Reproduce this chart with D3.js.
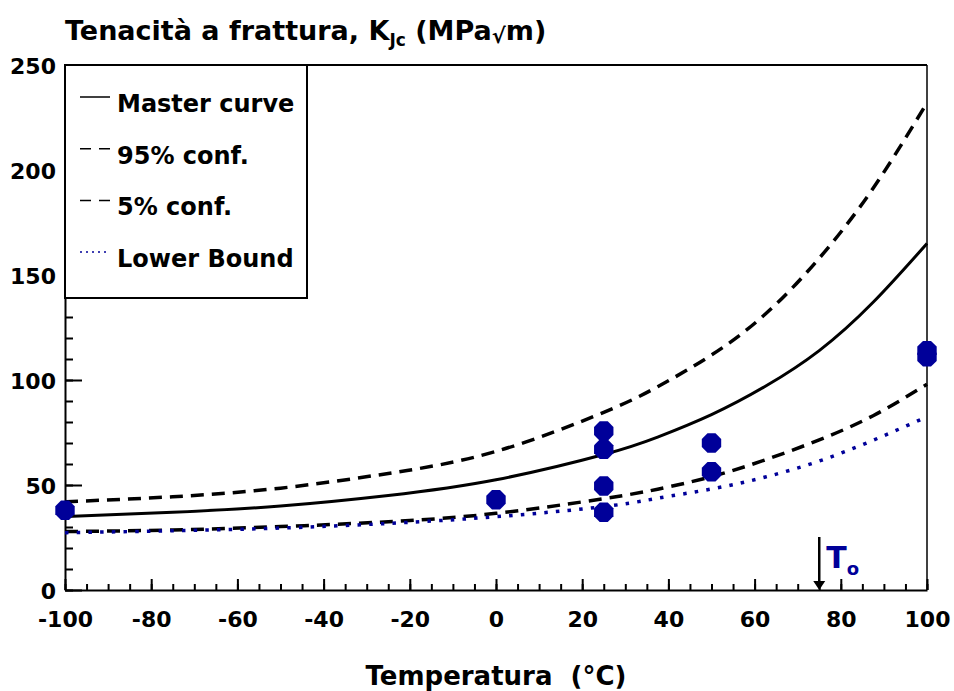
<!DOCTYPE html>
<html>
<head>
<meta charset="utf-8">
<script src="https://cdn.jsdelivr.net/npm/d3@7"></script>
<style>
  body { margin: 0; background: #fff; }
  svg text { font-family: "DejaVu Sans", sans-serif; font-weight: bold; }
</style>
</head>
<body>
<svg id="chart" width="954" height="691"></svg>
<script>
const temps = [-100, -75, -50, -25, 0, 25, 37.5, 50, 62.5, 75, 87.5, 100];
const masterCurve = [35, 37, 40, 45, 52.5, 64.5, 72.8, 83.5, 97, 114, 137, 165];
const conf95 = [42, 44.4, 48.5, 55.5, 66, 84.6, 96.8, 111.9, 131.4, 158, 191.3, 232];
const conf5 = [27.8, 28.6, 30.2, 32.5, 36.5, 43.5, 48, 54, 62, 71.5, 83, 98];
const lowerBound = [27.3, 28.2, 29.5, 31.7, 34.9, 39.7, 43.7, 48.1, 53.8, 61.4, 71.3, 82.5];

// measured KJc values
const testTemps = [-100, 0, 25, 25, 25, 25, 50, 50, 100, 100];
const testKJc = [38, 43, 75.7, 67, 49.5, 37, 70, 56.3, 114, 111];

const T0 = 75;

const xTicks = [-100, -80, -60, -40, -20, 0, 20, 40, 60, 80, 100];
const yTicks = [0, 50, 100, 150, 200, 250];

const legendLabels = ["Master curve", "95% conf.", "5% conf.", "Lower Bound"];

const blue = "#000099";
const mLeft = 65, mRight = 927, mTop = 65, mBottom = 590;

const svg = d3.select("#chart");

const x = d3.scaleLinear().domain([-100, 100]).range([mLeft, mRight]);
const y = d3.scaleLinear().domain([0, 250]).range([mBottom, mTop]);

// minor ticks
svg.append("g")
  .attr("transform", `translate(0,${mBottom})`)
  .call(d3.axisBottom(x).tickValues(d3.range(-100, 101, 5)).tickSize(-6).tickSizeOuter(0).tickFormat(""))
  .call((g) => g.select(".domain").remove());
svg.append("g")
  .attr("transform", `translate(${mLeft},0)`)
  .call(d3.axisLeft(y).tickValues(d3.range(0, 251, 10)).tickSize(-8).tickSizeOuter(0).tickFormat(""))
  .call((g) => g.select(".domain").remove());

// major ticks + labels (plain hyphen for negatives)
const xAxis = svg.append("g")
  .attr("transform", `translate(0,${mBottom})`)
  .call(d3.axisBottom(x).tickValues(xTicks).tickSize(-11).tickSizeOuter(0).tickPadding(21)
    .tickFormat((d) => String(d)));
const yAxis = svg.append("g")
  .attr("transform", `translate(${mLeft},0)`)
  .call(d3.axisLeft(y).tickValues(yTicks).tickSize(-17).tickSizeOuter(0).tickPadding(9)
    .tickFormat((d) => String(d)));

svg.selectAll(".tick line").attr("stroke", "#000").attr("stroke-width", 2);
[xAxis, yAxis].forEach((g) => {
  g.select(".domain").attr("stroke", "#000").attr("stroke-width", 2);
  g.selectAll("text").attr("font-size", 22).attr("fill", "#000")
    .attr("font-family", "DejaVu Sans").attr("font-weight", "bold");
});
yAxis.selectAll("text").attr("dy", "0.38em");

// frame top and right
svg.append("line").attr("x1", mLeft).attr("x2", mRight).attr("y1", mTop).attr("y2", mTop)
  .attr("stroke", "#000").attr("stroke-width", 2);
svg.append("line").attr("x1", mRight).attr("x2", mRight).attr("y1", mTop).attr("y2", mBottom)
  .attr("stroke", "#000").attr("stroke-width", 1.5);

// curves
const line = d3.line()
  .x((d) => x(d[0]))
  .y((d) => y(d[1]))
  .curve(d3.curveNatural);

const curves = [
  { values: masterCurve, color: "#000", width: 3, dash: null },
  { values: conf95, color: "#000", width: 3.5, dash: "13,8" },
  { values: conf5, color: "#000", width: 3.5, dash: "13,8" },
  { values: lowerBound, color: blue, width: 3.5, dash: "3.5,8.2" },
];

svg.selectAll("path.curve")
  .data(curves)
  .join("path")
  .attr("class", "curve")
  .attr("d", (c) => line(temps.map((t, i) => [t, c.values[i]])))
  .attr("fill", "none")
  .attr("stroke", (c) => c.color)
  .attr("stroke-width", (c) => c.width)
  .attr("stroke-dasharray", (c) => c.dash);

// octagon markers
const octagon = (r) => {
  const pts = d3.range(8).map((k) => {
    const a = Math.PI / 8 + (k * Math.PI) / 4;
    return [r * Math.cos(a), r * Math.sin(a)];
  });
  return `M${pts.join("L")}Z`;
};

svg.selectAll("path.point")
  .data(testTemps.map((t, i) => [t, testKJc[i]]))
  .join("path")
  .attr("class", "point")
  .attr("d", octagon(10.5))
  .attr("transform", (d) => `translate(${x(d[0])},${y(d[1])})`)
  .attr("fill", blue);

// T0 arrow
svg.append("line")
  .attr("x1", x(T0)).attr("x2", x(T0))
  .attr("y1", 537).attr("y2", mBottom - 6)
  .attr("stroke", "#000").attr("stroke-width", 2.5);
svg.append("path")
  .attr("d", `M${x(T0) - 6},${mBottom - 9}L${x(T0) + 6},${mBottom - 9}L${x(T0)},${mBottom}Z`)
  .attr("fill", "#000");
const t0Label = svg.append("text")
  .attr("x", x(T0) + 7)
  .attr("y", 568)
  .attr("fill", blue)
  .attr("font-size", 30);
t0Label.append("tspan").text("T");
t0Label.append("tspan").attr("font-size", 18).attr("dy", 7).text("o");

// legend
svg.append("rect")
  .attr("x", mLeft).attr("y", mTop)
  .attr("width", 242).attr("height", 233)
  .attr("fill", "#fff")
  .attr("stroke", "#000").attr("stroke-width", 2);

const legend = svg.selectAll("g.legend")
  .data(legendLabels)
  .join("g")
  .attr("class", "legend")
  .attr("transform", (d, i) => `translate(80,${112 + i * 51.7})`);

legend.append("line")
  .attr("x1", 0).attr("x2", 30)
  .attr("y1", -15).attr("y2", -15)
  .attr("stroke", (d, i) => curves[i].color)
  .attr("stroke-width", 1.5)
  .attr("stroke-dasharray", (d, i) => (i === 0 ? null : i === 3 ? "2,4" : "11,8"));

legend.append("text")
  .attr("x", 37)
  .attr("y", 0)
  .attr("font-size", 24)
  .attr("fill", "#000")
  .text((d) => d);

// title
const title = svg.append("text")
  .attr("x", 65)
  .attr("y", 40)
  .attr("font-size", 27)
  .attr("fill", "#000");
title.append("tspan").text("Tenacità a frattura, K");
title.append("tspan").attr("font-size", 17).attr("dy", 6).text("Jc");
title.append("tspan").attr("dy", -6).text(" (MPa");
title.append("tspan").attr("font-size", 21).attr("dy", 3).text("√");
title.append("tspan").attr("dy", -3).text("m)");

// x axis title
svg.append("text")
  .attr("x", (mLeft + mRight) / 2)
  .attr("y", 685)
  .attr("text-anchor", "middle")
  .attr("font-size", 26)
  .attr("fill", "#000")
  .attr("xml:space", "preserve")
  .text("Temperatura  (°C)");
</script>
</body>
</html>
